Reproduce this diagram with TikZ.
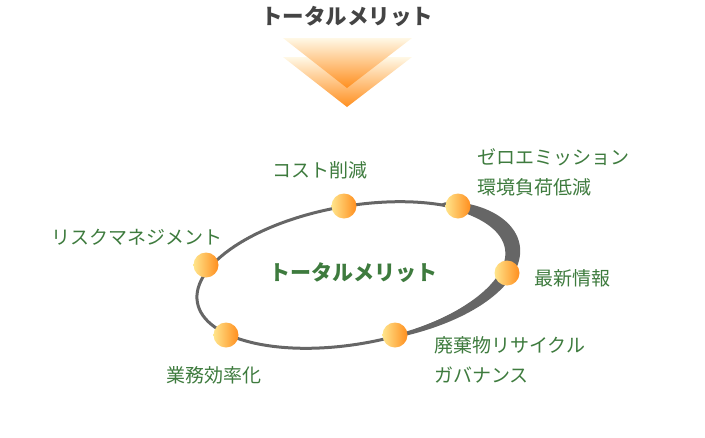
\documentclass[tikz,border=0pt]{standalone}
\usepackage{fontspec}
\newfontfamily\jpfont{Noto Sans CJK JP}
\usetikzlibrary{positioning}
\definecolor{MeritGreen}{HTML}{3E7B3E}
\definecolor{MeritGray}{HTML}{444444}
\definecolor{RingGray}{HTML}{666666}
\definecolor{DotYellow}{HTML}{FFE58C}
\definecolor{DotOrange}{HTML}{FF8E1E}
\definecolor{ArrowPale}{HTML}{FFF8E6}
\definecolor{ArrowYellow}{HTML}{FFC53A}
\definecolor{ArrowOrange}{HTML}{FF8F1F}

\begin{document}
\begin{tikzpicture}[x=1pt,y=-1pt,
  dot/.style={circle,minimum size=25pt,inner sep=0pt,left color=DotYellow,right color=DotOrange},
  lbl/.style={font=\jpfont\fontsize{19}{30}\selectfont,text=MeritGreen,align=left,anchor=west,inner sep=0pt},
  headline/.style={font=\jpfont\bfseries\fontsize{21.5}{26}\selectfont,text=MeritGray,inner sep=0pt},
  hub/.style={font=\jpfont\bfseries\fontsize{21}{26}\selectfont,text=MeritGreen,inner sep=0pt},
  ring/.style={draw=RingGray,line width=3pt},
  chevron/.style={top color=ArrowPale,middle color=ArrowYellow,bottom color=ArrowOrange},
]
\useasboundingbox (0,0) rectangle (705,437);

% title and arrow
\node[headline] (title) at (347,16) {トータルメリット};
\shade[chevron] (283,57) -- (412,57) -- (347,107) -- cycle;
\shade[chevron] (283,38) -- (412,38) -- (347,88) -- cycle;

% ring, thick on the right
\begin{scope}[shift={(353,275)},rotate=10]
  \draw[ring] (0,0) ellipse [x radius=158, y radius=69];
  \fill[RingGray] plot[domain=0:1,samples=80,variable=\u]
      ({(158+0.75*22*sqrt(abs(sin(180*\u)))*(1-0.75*\u))*cos(137*\u-52)},{(69+0.75*22*sqrt(abs(sin(180*\u)))*(1-0.75*\u))*sin(137*\u-52)})
    -- plot[domain=1:0,samples=80,variable=\u]
      ({(158-0.25*22*sqrt(abs(sin(180*\u)))*(1-0.75*\u))*cos(137*\u-52)},{(69-0.25*22*sqrt(abs(sin(180*\u)))*(1-0.75*\u))*sin(137*\u-52)})
    -- cycle;
\end{scope}
\node[hub] (total) at (353,273) {トータルメリット};

% points on the ring
\node[dot] (cost) at (344,206) {};
\node[dot] (zero) at (458,206) {};
\node[dot] (news) at (507,273) {};
\node[dot] (waste) at (395,335) {};
\node[dot] (ops) at (226,335) {};
\node[dot] (risk) at (206,265) {};

% labels
\node[lbl] (costlbl) at (272,170) {コスト削減};
\node[lbl] (zerolbl) at (477,172) {ゼロエミッション\\環境負荷低減};
\node[lbl] (newslbl) at (534,278) {最新情報};
\node[lbl] (wastelbl) at (434,360) {廃棄物リサイクル\\ガバナンス};
\node[lbl] (opslbl) at (166,375) {業務効率化};
\node[lbl] (risklbl) at (51,237) {リスクマネジメント};
\end{tikzpicture}
\end{document}
